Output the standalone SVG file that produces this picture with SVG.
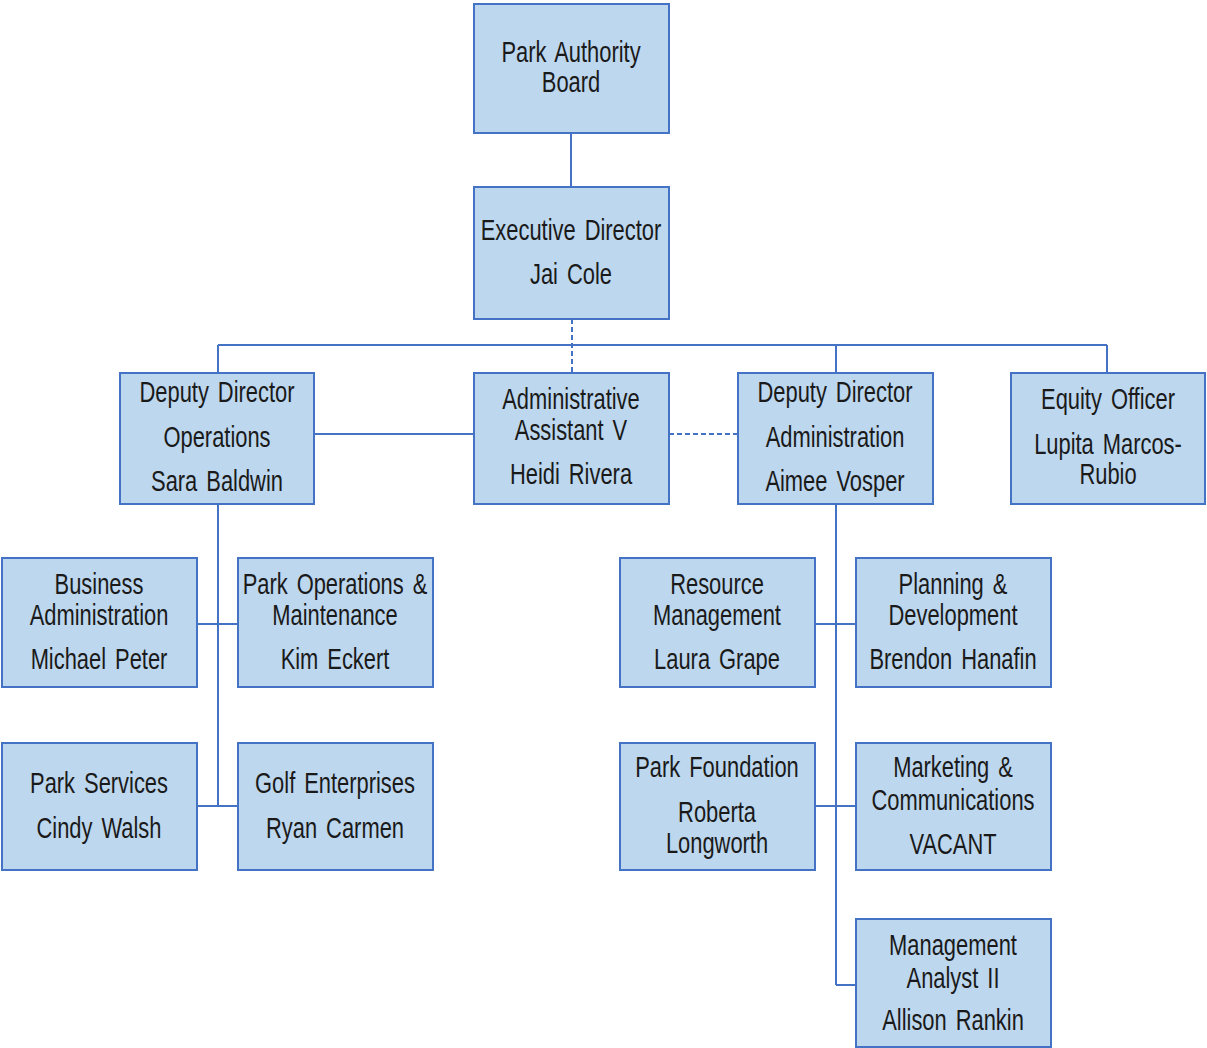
<svg xmlns="http://www.w3.org/2000/svg" width="1207" height="1048" viewBox="0 0 1207 1048">
<style>
.box{fill:#BDD7EE;stroke:#4472C4;stroke-width:2}
.t{font-family:"Liberation Sans",Arial,sans-serif;font-size:30px;fill:#1a1a1a;text-anchor:middle;word-spacing:4px}
.c{fill:none;stroke:#4472C4;stroke-width:2}
.d{fill:none;stroke:#4472C4;stroke-width:2;stroke-dasharray:5,3}
</style>
<rect width="1207" height="1048" fill="#ffffff"/>
<g id="connectors">
<path class="c" d="M571 133V187"/>
<path class="d" d="M572 319V373"/>
<path class="c" d="M218 345H1107M218 345V373M836 345V373M1107 345V373"/>
<path class="c" d="M314 434H474"/>
<path class="d" d="M669 434H738"/>
<path class="c" d="M218 504V806M197 624H238M197 806H238"/>
<path class="c" d="M836 504V985M815 624H856M815 806H856M836 985H856"/>
</g>
<g id="board"><rect class="box" x="474" y="4" width="195" height="129"/>
<text class="t" transform="translate(571,62) scale(0.73,1)">Park Authority</text>
<text class="t" transform="translate(571,92) scale(0.73,1)">Board</text></g>
<g id="exec"><rect class="box" x="474" y="187" width="195" height="132"/>
<text class="t" transform="translate(571,240) scale(0.73,1)">Executive Director</text>
<text class="t" transform="translate(571,284) scale(0.73,1)">Jai Cole</text></g>
<g id="ddops"><rect class="box" x="120" y="373" width="194" height="131"/>
<text class="t" transform="translate(217,402) scale(0.73,1)">Deputy Director</text>
<text class="t" transform="translate(217,447) scale(0.73,1)">Operations</text>
<text class="t" transform="translate(217,491) scale(0.73,1)">Sara Baldwin</text></g>
<g id="admin"><rect class="box" x="474" y="373" width="195" height="131"/>
<text class="t" transform="translate(571,409) scale(0.73,1)">Administrative</text>
<text class="t" transform="translate(571,440) scale(0.73,1)">Assistant V</text>
<text class="t" transform="translate(571,484) scale(0.73,1)">Heidi Rivera</text></g>
<g id="ddadmin"><rect class="box" x="738" y="373" width="195" height="131"/>
<text class="t" transform="translate(835,402) scale(0.73,1)">Deputy Director</text>
<text class="t" transform="translate(835,447) scale(0.73,1)">Administration</text>
<text class="t" transform="translate(835,491) scale(0.73,1)">Aimee Vosper</text></g>
<g id="equity"><rect class="box" x="1011" y="373" width="194" height="131"/>
<text class="t" transform="translate(1108,409) scale(0.73,1)">Equity Officer</text>
<text class="t" transform="translate(1108,454) scale(0.73,1)">Lupita Marcos-</text>
<text class="t" transform="translate(1108,484) scale(0.73,1)">Rubio</text></g>
<g id="busadmin"><rect class="box" x="2" y="558" width="195" height="129"/>
<text class="t" transform="translate(99,594) scale(0.73,1)">Business</text>
<text class="t" transform="translate(99,625) scale(0.73,1)">Administration</text>
<text class="t" transform="translate(99,669) scale(0.73,1)">Michael Peter</text></g>
<g id="parkops"><rect class="box" x="238" y="558" width="195" height="129"/>
<text class="t" transform="translate(335,594) scale(0.73,1)">Park Operations &amp;</text>
<text class="t" transform="translate(335,625) scale(0.73,1)">Maintenance</text>
<text class="t" transform="translate(335,669) scale(0.73,1)">Kim Eckert</text></g>
<g id="resource"><rect class="box" x="620" y="558" width="195" height="129"/>
<text class="t" transform="translate(717,594) scale(0.73,1)">Resource</text>
<text class="t" transform="translate(717,625) scale(0.73,1)">Management</text>
<text class="t" transform="translate(717,669) scale(0.73,1)">Laura Grape</text></g>
<g id="planning"><rect class="box" x="856" y="558" width="195" height="129"/>
<text class="t" transform="translate(953,594) scale(0.73,1)">Planning &amp;</text>
<text class="t" transform="translate(953,625) scale(0.73,1)">Development</text>
<text class="t" transform="translate(953,669) scale(0.73,1)">Brendon Hanafin</text></g>
<g id="parkservices"><rect class="box" x="2" y="743" width="195" height="127"/>
<text class="t" transform="translate(99,793) scale(0.73,1)">Park Services</text>
<text class="t" transform="translate(99,838) scale(0.73,1)">Cindy Walsh</text></g>
<g id="golf"><rect class="box" x="238" y="743" width="195" height="127"/>
<text class="t" transform="translate(335,793) scale(0.73,1)">Golf Enterprises</text>
<text class="t" transform="translate(335,838) scale(0.73,1)">Ryan Carmen</text></g>
<g id="foundation"><rect class="box" x="620" y="743" width="195" height="127"/>
<text class="t" transform="translate(717,777) scale(0.73,1)">Park Foundation</text>
<text class="t" transform="translate(717,822) scale(0.73,1)">Roberta</text>
<text class="t" transform="translate(717,853) scale(0.73,1)">Longworth</text></g>
<g id="marketing"><rect class="box" x="856" y="743" width="195" height="127"/>
<text class="t" transform="translate(953,777) scale(0.73,1)">Marketing &amp;</text>
<text class="t" transform="translate(953,810) scale(0.73,1)">Communications</text>
<text class="t" transform="translate(953,854) scale(0.73,1)">VACANT</text></g>
<g id="analyst"><rect class="box" x="856" y="919" width="195" height="128"/>
<text class="t" transform="translate(953,955) scale(0.73,1)">Management</text>
<text class="t" transform="translate(953,988) scale(0.73,1)">Analyst II</text>
<text class="t" transform="translate(953,1030) scale(0.73,1)">Allison Rankin</text></g>
</svg>
